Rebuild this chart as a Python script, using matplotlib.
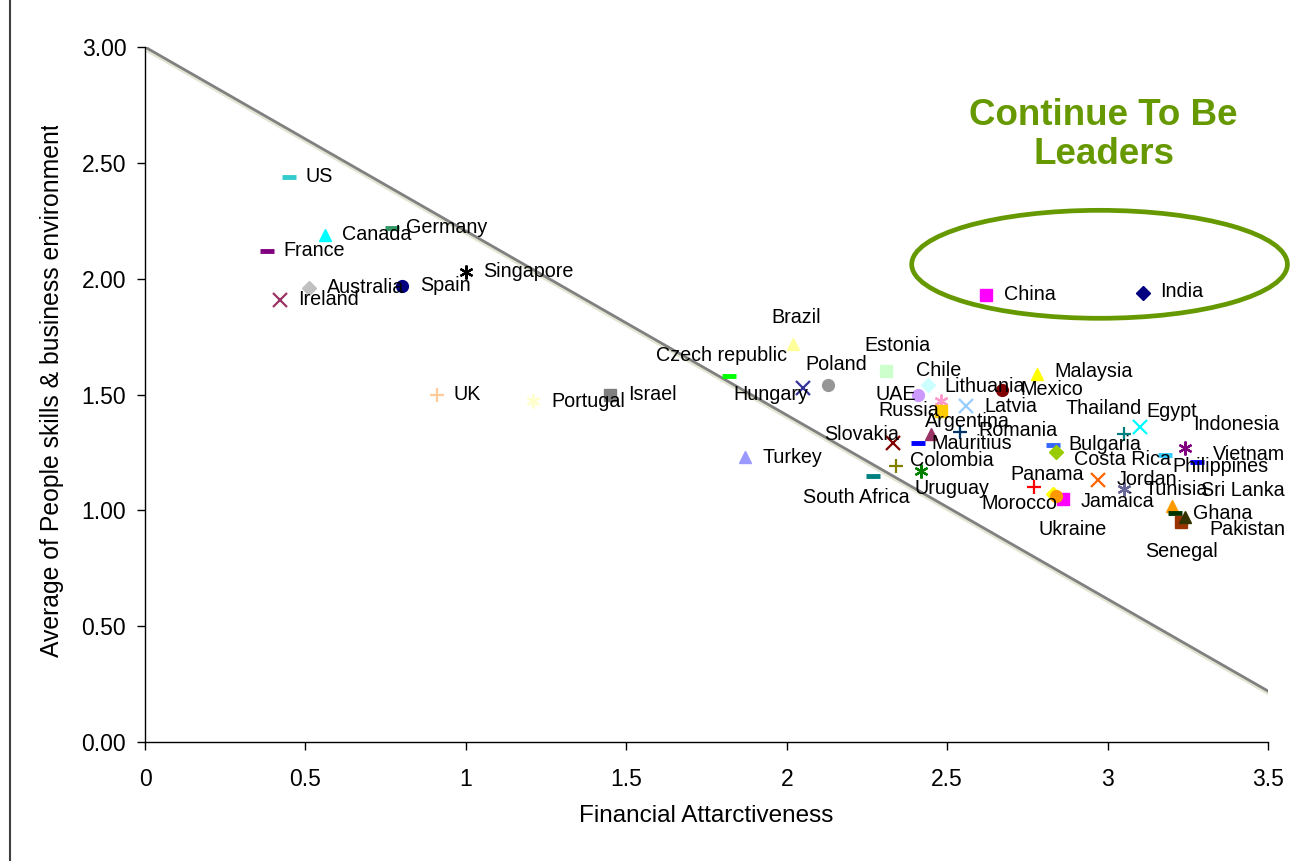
import matplotlib
matplotlib.use("Agg")
import matplotlib.pyplot as plt
import matplotlib.patheffects as pe
from matplotlib.patches import Ellipse, Rectangle
from matplotlib.transforms import Bbox

plt.rcParams['font.family'] = ['Liberation Sans', 'DejaVu Sans']

# Country scores: financial attractiveness vs people skills & business environment
countries = ['US', 'Canada', 'Germany', 'France', 'Australia', 'Spain', 'Singapore',
             'Ireland', 'UK', 'Portugal', 'Israel', 'Czech republic', 'Brazil', 'Hungary',
             'Poland', 'Estonia', 'Chile', 'UAE', 'Lithuania', 'Russia', 'Latvia', 'Mexico',
             'Malaysia', 'Argentina', 'Romania', 'Slovakia', 'Mauritius', 'Turkey',
             'Colombia', 'South Africa', 'Uruguay', 'Bulgaria', 'Costa Rica', 'Thailand',
             'Egypt', 'Indonesia', 'Philippines', 'Vietnam', 'Panama', 'Morocco', 'Jamaica',
             'Ukraine', 'Jordan', 'Tunisia', 'Sri Lanka', 'Ghana', 'Pakistan', 'Senegal',
             'China', 'India']
financial = [0.45, 0.56, 0.77, 0.38, 0.51, 0.80, 1.00,
             0.42, 0.91, 1.21, 1.45, 1.82, 2.02, 2.05,
             2.13, 2.31, 2.44, 2.41, 2.48, 2.48, 2.56, 2.67,
             2.78, 2.45, 2.54, 2.33, 2.41, 1.87,
             2.34, 2.27, 2.42, 2.83, 2.84, 3.05,
             3.10, 3.24, 3.18, 3.28, 2.77, 2.83, 2.86,
             2.84, 2.97, 3.05, 3.20, 3.21, 3.23, 3.24,
             2.62, 3.11]
people = [2.44, 2.19, 2.22, 2.12, 1.96, 1.97, 2.03,
          1.91, 1.50, 1.47, 1.50, 1.58, 1.72, 1.53,
          1.54, 1.60, 1.54, 1.50, 1.47, 1.43, 1.45, 1.52,
          1.59, 1.33, 1.34, 1.29, 1.29, 1.23,
          1.19, 1.15, 1.17, 1.28, 1.25, 1.33,
          1.36, 1.27, 1.24, 1.21, 1.10, 1.07, 1.05,
          1.06, 1.13, 1.09, 1.02, 0.99, 0.95, 0.97,
          1.93, 1.94]

# Reference line
trend_x = [0.0, 3.5]
trend_y = [3.0, 0.22]

# marker, colour per country
styles = {
    'US': ('_', '#33cccc'), 'Canada': ('^', '#00ffff'), 'Germany': ('_', '#339966'),
    'France': ('_', '#800080'), 'Australia': ('D', '#c0c0c0'), 'Spain': ('o', '#000080'),
    'Singapore': ((6, 2, 0), '#000000'), 'Ireland': ('x', '#993366'), 'UK': ('+', '#ffcc99'),
    'Portugal': ((6, 2, 0), '#ffffcc'), 'Israel': ('s', '#808080'),
    'Czech republic': ('_', '#00ff00'), 'Brazil': ('^', '#ffff99'), 'Hungary': ('x', '#333399'),
    'Poland': ('o', '#969696'), 'Estonia': ('s', '#ccffcc'), 'Chile': ('D', '#ccffff'),
    'UAE': ('o', '#cc99ff'), 'Lithuania': ((6, 2, 0), '#ff99cc'), 'Russia': ('s', '#ffcc00'),
    'Latvia': ('x', '#99ccff'), 'Mexico': ('o', '#800000'), 'Malaysia': ('^', '#ffff00'),
    'Argentina': ('^', '#993366'), 'Romania': ('+', '#003366'), 'Slovakia': ('x', '#800000'),
    'Mauritius': ('_', '#0000ff'), 'Turkey': ('^', '#9999ff'), 'Colombia': ('+', '#808000'),
    'South Africa': ('_', '#008080'), 'Uruguay': ((6, 2, 0), '#008000'),
    'Bulgaria': ('_', '#3366ff'), 'Costa Rica': ('D', '#99cc00'), 'Thailand': ('+', '#008080'),
    'Egypt': ('x', '#00ffff'), 'Indonesia': ((6, 2, 0), '#800080'),
    'Philippines': ('_', '#33ccff'), 'Vietnam': ('_', '#0000ff'), 'Panama': ('+', '#ff0000'),
    'Morocco': ('D', '#ffff00'), 'Jamaica': ('s', '#ff00ff'), 'Ukraine': ('o', '#ff9900'),
    'Jordan': ('x', '#ff6600'), 'Tunisia': ((6, 2, 0), '#666699'), 'Sri Lanka': ('^', '#ff9900'),
    'Ghana': ('_', '#003300'), 'Pakistan': ('s', '#993300'), 'Senegal': ('^', '#333300'),
    'China': ('s', '#ff00ff'), 'India': ('D', '#000080'),
}

# label offsets (pixels) from each point, left edge / vertical centre
offsets = {
    'US': (16, 0), 'Canada': (17, 0), 'Germany': (14, 0), 'France': (16, 0),
    'Australia': (18, 0), 'Spain': (18, 0), 'Singapore': (17, 0), 'Ireland': (18, 0),
    'UK': (17, 0), 'Portugal': (18, 0), 'Israel': (18, 0), 'Czech republic': (-73, 20),
    'Brazil': (-22, 26), 'Hungary': (-69, -7), 'Poland': (-23, 21), 'Estonia': (-22, 26),
    'Chile': (-12, 15), 'UAE': (-43, 0), 'Lithuania': (4, 15), 'Russia': (-62, 0),
    'Latvia': (18, 0), 'Mexico': (19, 0), 'Malaysia': (17, 2), 'Argentina': (-6, 12),
    'Romania': (18, 1), 'Slovakia': (-68, 9), 'Mauritius': (13, 0), 'Turkey': (17, 0),
    'Colombia': (14, 6), 'South Africa': (-70, -22), 'Uruguay': (-7, -18),
    'Bulgaria': (15, 1), 'Costa Rica': (18, -7), 'Thailand': (-58, 25), 'Egypt': (7, 15),
    'Indonesia': (9, 23), 'Philippines': (7, -12), 'Vietnam': (15, 7), 'Panama': (-23, 13),
    'Morocco': (-72, -9), 'Jamaica': (18, -3), 'Ukraine': (-18, -33), 'Jordan': (19, 1),
    'Tunisia': (21, 0), 'Sri Lanka': (29, 15), 'Ghana': (18, -1), 'Pakistan': (28, -8),
    'Senegal': (-39, -34), 'China': (18, 0), 'India': (17, 1),
}

fig = plt.figure(figsize=(12.91, 8.61), dpi=100)
ax = fig.add_axes([145 / 1291, 119 / 861, 1123 / 1291, 695 / 861])

ax.plot(trend_x, trend_y, color='#808080', lw=2, zorder=1,
        path_effects=[pe.SimpleLineShadow(offset=(2, -3), shadow_color='#e4e4d2', alpha=1),
                      pe.Normal()])

for name, fx, py in zip(countries, financial, people):
    m, c = styles[name]
    if m == '_':
        ax.plot(fx, py, marker=m, color=c, ms=10, mew=3.5, ls='none', zorder=3)
    elif m in ('x', '+') or isinstance(m, tuple):
        ax.plot(fx, py, marker=m, color=c, ms=10, mew=1.6, ls='none', zorder=3)
    else:
        size = 7 if m == 'D' else 8.5
        ax.plot(fx, py, marker=m, color=c, mec=c, ms=size, ls='none', zorder=3)
    dx, dy = offsets[name]
    ax.annotate(name, (fx, py), xytext=(dx, dy), textcoords='offset pixels',
                ha='left', va='center', fontsize=14.2, color='black', zorder=4)

# highlight ring and callout text
ring = Ellipse((2.975, 2.062), 1.171, 0.466, fill=False, ec='#669900', lw=3.4,
               clip_on=False, zorder=5)
ax.add_patch(ring)
ax.text(2.988, 2.619, 'Continue To Be\nLeaders', ha='center', va='center',
        fontsize=26.5, fontweight='bold', color='#669900', linespacing=1.15)

ax.set_xlim(0, 3.5)
ax.set_ylim(0, 3.0)
ax.set_xticks([0, 0.5, 1, 1.5, 2, 2.5, 3, 3.5])
ax.set_xticklabels(['0', '0.5', '1', '1.5', '2', '2.5', '3', '3.5'])
ax.set_yticks([0, 0.5, 1.0, 1.5, 2.0, 2.5, 3.0])
ax.set_yticklabels(['%.2f' % v for v in [0, 0.5, 1.0, 1.5, 2.0, 2.5, 3.0]])
ax.tick_params(direction='out', length=5.5, width=1, labelsize=16.5, color='black')
ax.tick_params(axis='x', pad=13)
ax.tick_params(axis='y', pad=8)
for side in ('top', 'right'):
    ax.spines[side].set_visible(False)
for side in ('left', 'bottom'):
    ax.spines[side].set_linewidth(1)

ax.set_xlabel('Financial Attarctiveness', fontsize=17.5, labelpad=10)

# y title runs past the top of the plot area and is cut off there
ylab = fig.text(52 / 1291, 1 - 657 / 861, 'Average of People skills & business environment',
                rotation=90, ha='center', va='bottom', fontsize=17.8)
ylab.set_clip_box(Bbox.from_extents(0, 0, 1291, 861 - 126))
ylab.set_clip_on(True)

# chart frame (left edge visible)
fig.patches.append(Rectangle((10 / 1291, -0.1), 1.2, 1.3, transform=fig.transFigure,
                             fill=False, ec='#404040', lw=1.5))

fig.savefig('out.png', dpi=100)
